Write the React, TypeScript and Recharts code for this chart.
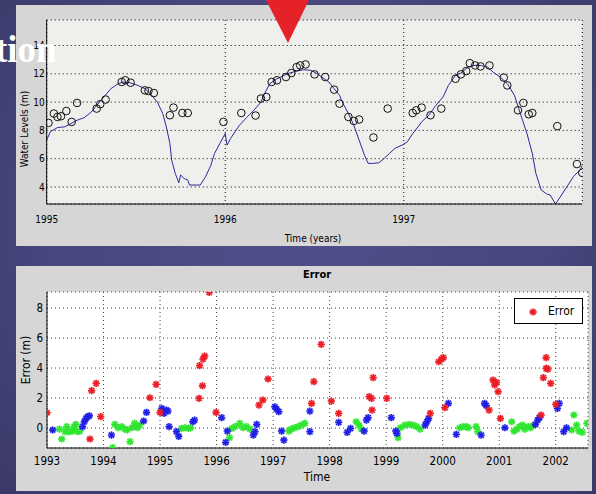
import React from 'react';
import { ComposedChart, ScatterChart, Line, Scatter, XAxis, YAxis, CartesianGrid, Legend, Label } from 'recharts';

// ---------- Top chart: water levels ----------
const modelYears = [1995.00,1995.02,1995.06,1995.10,1995.13,1995.17,1995.21,1995.25,1995.28,1995.32,1995.36,1995.40,1995.43,1995.47,1995.51,1995.55,1995.58,1995.62,1995.65,1995.67,1995.69,1995.70,1995.72,1995.74,1995.75,1995.77,1995.79,1995.80,1995.84,1995.86,1995.89,1995.92,1995.94,1995.97,1995.99,1996.00,1996.01,1996.03,1996.06,1996.08,1996.12,1996.16,1996.20,1996.22,1996.25,1996.29,1996.33,1996.36,1996.40,1996.44,1996.48,1996.51,1996.54,1996.58,1996.61,1996.64,1996.66,1996.69,1996.72,1996.75,1996.78,1996.80,1996.83,1996.86,1996.89,1996.92,1996.95,1996.99,1997.02,1997.05,1997.08,1997.10,1997.14,1997.18,1997.22,1997.25,1997.29,1997.32,1997.36,1997.39,1997.43,1997.47,1997.50,1997.54,1997.58,1997.62,1997.65,1997.69,1997.72,1997.74,1997.77,1997.80,1997.82,1997.85,1997.88,1997.92,1997.95,1997.99,1998.00];
const modelLevels = [7.31,7.9,8.2,8.25,8.44,8.72,8.9,9.3,9.77,10.36,10.95,11.3,11.42,11.35,11.18,10.95,10.6,10.0,9.19,8.25,7.08,5.9,4.96,4.3,4.85,4.6,4.5,4.14,4.14,4.14,4.73,5.55,6.37,7.08,7.54,7.78,6.96,7.43,8.0,8.37,8.91,9.42,10.0,10.6,11.3,11.65,11.89,12.05,12.19,12.29,12.24,12.05,11.77,11.42,10.95,10.48,9.89,9.19,8.37,7.31,6.25,5.67,5.67,5.71,6.02,6.37,6.73,6.96,7.19,7.78,8.25,8.6,9.07,9.77,10.36,11.18,11.89,12.05,12.47,12.59,12.59,12.47,12.12,11.77,11.3,10.48,9.3,7.78,6.37,4.96,3.79,3.51,3.44,2.8,3.37,4.14,4.73,5.25,5.55];

const obsYears = [1995.01,1995.04,1995.06,1995.08,1995.11,1995.14,1995.17,1995.28,1995.30,1995.33,1995.42,1995.44,1995.47,1995.55,1995.57,1995.60,1995.69,1995.71,1995.76,1995.79,1995.99,1996.09,1996.17,1996.20,1996.23,1996.26,1996.29,1996.34,1996.37,1996.40,1996.42,1996.45,1996.50,1996.56,1996.61,1996.64,1996.69,1996.72,1996.75,1996.83,1996.91,1997.05,1997.07,1997.10,1997.15,1997.21,1997.29,1997.32,1997.35,1997.37,1997.40,1997.43,1997.48,1997.56,1997.58,1997.64,1997.67,1997.70,1997.72,1997.86,1997.97,1998.00];
const obsLevels = [8.53,9.19,8.95,9.0,9.37,8.6,9.94,9.54,9.85,10.18,11.42,11.54,11.37,10.83,10.78,10.64,9.07,9.61,9.23,9.23,8.6,9.23,9.05,10.25,10.36,11.42,11.54,11.77,12.05,12.47,12.59,12.66,11.96,11.77,10.88,9.89,8.95,8.67,8.77,7.5,9.54,9.23,9.42,9.61,9.07,9.54,11.65,11.96,12.19,12.75,12.59,12.52,12.59,11.73,11.18,9.42,9.94,9.14,9.23,8.3,5.62,5.0];

const topXTicks = [1995, 1996, 1997];
const topYTicks = [4, 6, 8, 10, 12, 14];

// ---------- Bottom chart: errors ----------
const redYears = [1993.00,1993.76,1993.79,1993.87,1993.95,1994.82,1994.93,1995.00,1995.69,1995.70,1995.75,1995.76,1995.79,1995.87,1995.99,1996.75,1996.82,1996.91,1997.68,1997.72,1997.85,1998.03,1998.16,1998.70,1998.74,1998.75,1998.77,1999.01,1999.78,1999.93,1999.98,2000.01,2000.04,2000.82,2000.89,2000.92,2000.95,2000.98,2001.02,2001.74,2001.78,2001.83,2001.83,2001.86,2001.91,2002.00];
const redErr = [1.02,-0.73,2.49,2.98,0.76,2.02,2.91,1.04,1.98,4.16,2.82,4.6,4.8,9.05,1.04,1.53,1.87,3.27,1.64,3.09,5.58,1.8,0.98,2.09,1.98,1.2,3.36,1.98,0.98,4.42,4.6,4.69,1.36,1.2,3.2,2.87,3.04,2.42,0.64,0.87,3.36,3.98,4.69,3.93,2.98,1.58];

const blueYears = [1993.10,1993.63,1993.66,1993.69,1993.72,1993.75,1994.14,1994.71,1994.76,1995.03,1995.07,1995.11,1995.14,1995.16,1995.29,1995.33,1995.58,1995.61,1996.09,1996.16,1996.19,1996.65,1996.68,1996.71,1997.03,1997.06,1997.10,1997.15,1997.19,1997.65,1997.65,1998.16,1998.31,1998.37,1998.61,1998.65,1998.68,1999.09,1999.17,1999.19,1999.69,1999.72,1999.75,2000.10,2000.24,2000.68,2000.74,2000.77,2001.10,2001.64,2001.68,2001.71,2002.03,2002.06,2002.14,2002.19];
const blueErr = [-0.13,0.09,0.42,0.64,0.76,0.82,-0.47,0.47,1.04,1.31,0.98,1.2,1.13,0.09,-0.24,-0.55,0.42,0.53,0.69,-0.96,-0.2,-0.47,-0.24,0.24,1.42,1.27,1.09,-0.2,-0.8,-0.24,1.13,0.38,-0.29,-0.02,-0.2,0.53,0.69,0.69,-0.2,-0.36,0.2,0.42,0.64,1.64,-0.42,-0.47,1.64,1.49,0.02,0.24,0.53,0.69,1.31,1.64,-0.24,0.02];

const greenYears = [1993.22,1993.26,1993.32,1993.35,1993.39,1993.45,1993.48,1993.51,1993.54,1993.58,1994.16,1994.20,1994.26,1994.32,1994.38,1994.42,1994.47,1994.50,1994.55,1994.60,1994.64,1995.38,1995.44,1995.50,1995.54,1996.23,1996.27,1996.33,1996.41,1996.47,1996.53,1996.59,1997.28,1997.32,1997.38,1997.44,1997.50,1997.56,1998.47,1998.52,1998.56,1999.21,1999.25,1999.33,1999.41,1999.48,1999.54,1999.60,2000.30,2000.36,2000.42,2000.45,2000.59,2000.62,2001.22,2001.26,2001.31,2001.36,2001.41,2001.45,2001.51,2001.55,2001.60,2002.28,2002.32,2002.37,2002.41,2002.47,2002.55];
const greenErr = [-0.07,-0.73,-0.24,0.09,-0.25,-0.2,0.09,0.24,-0.24,-0.2,-1.31,0.24,0.02,0.09,-0.07,-0.13,-0.91,0.02,0.31,0.02,0.2,-0.02,0.02,-0.02,0.02,-0.64,-0.02,0.09,0.31,0.02,0.09,-0.07,-0.2,-0.07,0.02,0.09,0.2,0.31,0.42,0.2,-0.07,-0.64,0.02,0.2,0.24,0.2,0.09,-0.07,0.02,0.09,0.09,0.02,0.09,-0.24,0.42,-0.2,-0.07,0.09,0.2,-0.07,0.09,0.02,0.16,-0.13,0.87,0.2,-0.2,-0.29,0.31];

const bottomXTicks = [1993, 1994, 1995, 1996, 1997, 1998, 1999, 2000, 2001, 2002];
const bottomYTicks = [0, 2, 4, 6, 8];

const modelData = modelYears.map((t, i) => ({ t, v: modelLevels[i] }));
const obsData = obsYears.map((t, i) => ({ t, v: obsLevels[i] }));
const redData = redYears.map((t, i) => ({ t, e: redErr[i] }));
const blueData = blueYears.map((t, i) => ({ t, e: blueErr[i] }));
const greenData = greenYears.map((t, i) => ({ t, e: greenErr[i] }));

const FONT = "'Liberation Sans Narrow', 'DejaVu Sans Condensed', 'Liberation Sans', Arial, sans-serif";
const RED = '#ea1c24';
const BLUE = '#1e1ee6';
const GREEN = '#2ee62e';

const OpenCircle = (props: any) => {
  const { cx, cy } = props;
  if (cx == null || cy == null) return null;
  return <circle cx={cx} cy={cy} r={3.8} fill="none" stroke="#111" strokeWidth={1} />;
};

const makeStar = (color: string) => (props: any) => {
  const { cx, cy } = props;
  if (cx == null || cy == null) return null;
  const a = 3.6, b = 2.6;
  return (
    <g>
      <circle cx={cx} cy={cy} r={3.6} fill={color} opacity={0.35} />
      <path
        d={`M${cx - a},${cy}H${cx + a}M${cx},${cy - a}V${cy + a}M${cx - b},${cy - b}L${cx + b},${cy + b}M${cx - b},${cy + b}L${cx + b},${cy - b}`}
        stroke={color}
        strokeWidth={1.4}
      />
    </g>
  );
};

const LegendBox = () => (
  <div style={{ width: 69, height: 26, boxSizing: 'border-box', border: '1px solid #000', background: '#fff', position: 'relative', fontFamily: FONT }}>
    <svg width={14} height={14} style={{ position: 'absolute', left: 11, top: 6 }}>
      {makeStar(RED)({ cx: 7, cy: 7 })}
    </svg>
    <span style={{ position: 'absolute', left: 33, top: 5, fontSize: 12, color: '#000', lineHeight: '14px' }}>Error</span>
  </div>
);

export default function App() {
  return (
    <div style={{ position: 'absolute', left: 0, top: 0, width: 596, height: 494, overflow: 'hidden', background: 'radial-gradient(ellipse at 50% 45%, #504f8a 0%, #47467d 60%, #3a3968 100%)' }}>
      {/* Top panel */}
      <div style={{ position: 'absolute', left: 16, top: 5, width: 576, height: 241, background: '#d6d6d6' }}>
        <ComposedChart width={576} height={241} margin={{ top: 15, right: 9.7, bottom: 0, left: 0 }}>
          <CartesianGrid fill="#efefec" stroke="#000" strokeDasharray="1 3" />
          <XAxis
            dataKey="t" type="number" domain={[1995, 1998]} ticks={topXTicks} allowDataOverflow
            height={42} tickLine={false} tickSize={4} tickMargin={8}
            axisLine={{ stroke: '#000' }}
            tick={{ fontSize: 10, fill: '#000', fontFamily: FONT }}
          >
            <Label content={() => (
              <text x={297} y={237} textAnchor="middle" fontSize={10} fontFamily={FONT} fill="#000">Time (years)</text>
            )} />
          </XAxis>
          <XAxis xAxisId="top" orientation="top" type="number" domain={[1995, 1998]} height={0} tick={false} tickLine={false} axisLine={{ stroke: '#000' }} />
          <YAxis
            type="number" domain={[2.8, 15.8]} ticks={topYTicks} allowDataOverflow
            width={30.7} tickLine={false} tickSize={0} tickMargin={2}
            axisLine={{ stroke: '#000' }}
            tick={{ fontSize: 10, fill: '#000', fontFamily: FONT }}
          >
            <Label content={() => (
              <text x={12} y={124} transform="rotate(-90 12 124)" textAnchor="middle" fontSize={10} fontFamily={FONT} fill="#000">Water Levels (m)</text>
            )} />
          </YAxis>
          <YAxis yAxisId="right" orientation="right" type="number" domain={[2.8, 15.8]} width={0} tick={false} tickLine={false} axisLine={{ stroke: '#000' }} />
          <Line data={modelData} dataKey="v" type="linear" stroke="#2a2a9c" strokeWidth={1} dot={false} isAnimationActive={false} />
          <Scatter data={obsData} dataKey="v" shape={OpenCircle} isAnimationActive={false} />
        </ComposedChart>
      </div>

      {/* Bottom panel */}
      <div style={{ position: 'absolute', left: 16, top: 266, width: 576, height: 225, background: '#d6d6d6' }}>
        <ScatterChart width={576} height={225} margin={{ top: 26, right: 4, bottom: 0, left: 0 }}>
          <CartesianGrid fill="#ffffff" stroke="#444" strokeDasharray="1 3" />
          <XAxis
            dataKey="t" type="number" domain={[1993, 2002.57]} ticks={bottomXTicks} allowDataOverflow
            height={43} tickLine={false} tickSize={0} tickMargin={9}
            axisLine={{ stroke: '#000' }}
            tick={{ fontSize: 11.5, fill: '#000', fontFamily: FONT }}
          >
            <Label content={() => (
              <g>
                <text x={301} y={215} textAnchor="middle" fontSize={12} fontFamily={FONT} fill="#000">Time</text>
                <text x={301} y={12} textAnchor="middle" fontSize={11} fontWeight="bold" fontFamily={FONT} fill="#000">Error</text>
              </g>
            )} />
          </XAxis>
          <XAxis xAxisId="top" orientation="top" type="number" domain={[1993, 2002.57]} height={0} tick={false} tickLine={false} axisLine={{ stroke: '#000' }} />
          <YAxis
            dataKey="e" type="number" domain={[-1.33, 9.07]} ticks={bottomYTicks} allowDataOverflow
            width={31} tickLine={false} tickSize={0} tickMargin={4}
            axisLine={{ stroke: '#000' }}
            tick={{ fontSize: 11.5, fill: '#000', fontFamily: FONT }}
          >
            <Label content={() => (
              <text x={14} y={94} transform="rotate(-90 14 94)" textAnchor="middle" fontSize={12} fontFamily={FONT} fill="#000">Error (m)</text>
            )} />
          </YAxis>
          <YAxis yAxisId="right" orientation="right" type="number" domain={[-1.33, 9.07]} width={0} tick={false} tickLine={false} axisLine={{ stroke: '#000' }} />
          <Scatter name="Green" data={greenData} shape={makeStar(GREEN)} legendType="none" isAnimationActive={false} />
          <Scatter name="Blue" data={blueData} shape={makeStar(BLUE)} legendType="none" isAnimationActive={false} />
          <Scatter name="Error" data={redData} shape={makeStar(RED)} isAnimationActive={false} />
          <Legend layout="vertical" align="center" verticalAlign="middle" content={LegendBox}
            wrapperStyle={{ left: 498, top: 32, width: 69, height: 26 }} />
        </ScatterChart>
      </div>

      {/* Slide overlays */}
      <svg width={596} height={494} style={{ position: 'absolute', left: 0, top: 0, pointerEvents: 'none' }}>
        <polygon points="266,0 309,0 288,43" fill="#e52228" />
        <text x={-5} y={62} fontFamily="'Liberation Serif', 'Times New Roman', serif" fontWeight="bold" fontSize={37} fill="#ffffff">tion</text>
      </svg>
    </div>
  );
}
